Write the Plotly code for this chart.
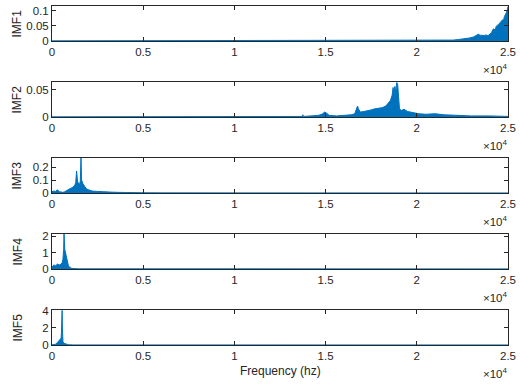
import plotly.graph_objects as go

W, H = 520, 387
BLUE = "#0072BD"
AX = "#262626"

# ---- data ----
imf1_f = [0, 20000, 21000, 21500, 22000, 22300, 22600, 22900, 23100, 23300, 23400, 23450, 23500,
          23700, 23800, 23900, 24000, 24100, 24200, 24300, 24350, 24400, 24500, 24550, 24600, 24700,
          24750, 24800, 24850, 24900, 24950, 25000]
imf1_a = [0.0005, 0.0008, 0.001, 0.002, 0.003, 0.005, 0.007, 0.01, 0.013, 0.018, 0.023, 0.017, 0.019,
          0.018, 0.02, 0.017, 0.022, 0.028, 0.04, 0.036, 0.048, 0.05, 0.055, 0.06, 0.062, 0.07,
          0.066, 0.08, 0.085, 0.092, 0.1, 0.113]

imf2_f = [0, 13000, 13700, 13750, 13800, 14200, 14600, 14800, 14950, 15050, 15200, 15600, 16000,
          16400, 16600, 16750, 16800, 16900, 17100, 17300, 17500, 17700, 17900, 18100, 18300, 18450,
          18550, 18650, 18700, 18750, 18800, 18850, 18900, 18950, 19000, 19050, 19150, 19300, 19500,
          19800, 20100, 20500, 21000, 21500, 22000, 23000, 24000, 25000]
imf2_a = [0.0003, 0.0005, 0.001, 0.004, 0.001, 0.002, 0.003, 0.005, 0.009, 0.007, 0.003, 0.002, 0.003,
          0.004, 0.006, 0.02, 0.015, 0.009, 0.01, 0.011, 0.013, 0.015, 0.016, 0.017, 0.02, 0.025,
          0.03, 0.04, 0.054, 0.042, 0.056, 0.045, 0.063, 0.06, 0.035, 0.015, 0.012, 0.014, 0.01,
          0.008, 0.006, 0.005, 0.006, 0.004, 0.003, 0.002, 0.002, 0.001]

imf3_f = [0, 100, 200, 300, 400, 500, 600, 700, 800, 900, 1000, 1100, 1200, 1250, 1300, 1350, 1400,
          1450, 1500, 1550, 1590, 1620, 1660, 1700, 1800, 1900, 2000, 2200, 2500, 2800, 3200, 3600,
          4000, 5000, 6000, 8000, 25000]
imf3_a = [0.01, 0.015, 0.012, 0.025, 0.01, 0.006, 0.005, 0.01, 0.02, 0.03, 0.035, 0.04, 0.05, 0.06,
          0.08, 0.17, 0.09, 0.07, 0.06, 0.09, 0.27, 0.1, 0.08, 0.07, 0.05, 0.03, 0.025, 0.015, 0.012,
          0.008, 0.007, 0.005, 0.003, 0.002, 0.001, 0.001, 0.0005]

imf4_f = [0, 100, 200, 300, 400, 500, 560, 600, 640, 660, 680, 700, 750, 800, 850, 900, 1000, 1100,
          1500, 25000]
imf4_a = [0.1, 0.25, 0.2, 0.3, 0.25, 0.3, 0.4, 0.6, 1.2, 2.15, 1.7, 1.2, 0.9, 0.6, 0.35, 0.2, 0.08,
          0.03, 0.01, 0.005]

imf5_f = [0, 100, 200, 300, 400, 450, 500, 520, 540, 555, 570, 600, 650, 700, 800, 900, 1200, 25000]
imf5_a = [0.02, 0.05, 0.1, 0.3, 0.5, 0.6, 0.8, 1.5, 3.0, 4.05, 2.0, 0.4, 0.2, 0.15, 0.08, 0.03, 0.01,
          0.005]

labels = ["IMF1", "IMF2", "IMF3", "IMF4", "IMF5"]
yranges = [[0, 0.115], [0, 0.064], [0, 0.27], [0, 2.15], [0, 4.1]]
ydticks = [0.05, 0.05, 0.1, 1, 2]
xtick_vals = [0, 5000, 10000, 15000, 20000, 25000]
xtick_text = ["0", "0.5", "1", "1.5", "2", "2.5"]
series = [(imf1_f, imf1_a), (imf2_f, imf2_a), (imf3_f, imf3_a), (imf4_f, imf4_a), (imf5_f, imf5_a)]

# ---- layout geometry (reference pixels) ----
left, right = 52, 508
tops = [6, 82, 158, 234, 310]
hgt = 35


def fx(px):
    return px / W


def fy(py):
    return 1 - py / H


fig = go.Figure()
layout = dict(width=W, height=H, margin=dict(l=0, r=0, t=0, b=0, autoexpand=False),
              template="none",
              paper_bgcolor="white", plot_bgcolor="white", showlegend=False,
              font=dict(family="Liberation Sans, Arial, sans-serif", size=11, color=AX))
annotations = []
for i, ((f, a), lab) in enumerate(zip(series, labels)):
    n = i + 1
    xa = "x" if n == 1 else f"x{n}"
    ya = "y" if n == 1 else f"y{n}"
    fig.add_trace(go.Scatter(x=f, y=a, mode="lines", fill="tozeroy",
                             line=dict(color=BLUE, width=1), fillcolor=BLUE,
                             xaxis=xa, yaxis=ya, hoverinfo="skip"))
    top = tops[i]
    bot = top + hgt
    layout[f"xaxis{n}"] = dict(domain=[fx(left), fx(right)], range=[0, 25000], anchor=ya,
                               tickvals=xtick_vals, ticktext=xtick_text, ticks="inside",
                               ticklen=4, tickcolor=AX, showline=True, linecolor=AX,
                               linewidth=1, mirror="ticks", showgrid=False, zeroline=False,
                               automargin=False, tickfont=dict(size=11.5, color=AX))
    layout[f"yaxis{n}"] = dict(domain=[fy(bot), fy(top)], range=yranges[i], anchor=xa,
                               dtick=ydticks[i], tick0=0, ticks="inside", ticklen=4,
                               tickcolor=AX, showline=True, linecolor=AX, linewidth=1,
                               mirror="ticks", showgrid=False, zeroline=False,
                               automargin=False, tickfont=dict(size=11.5, color=AX))
    annotations.append(dict(text="×10<sup>4</sup>", xref="paper", yref="paper",
                            x=fx(right + 2), y=fy(bot + 19), xanchor="right",
                            yanchor="top", showarrow=False, font=dict(size=11.5, color=AX)))
    annotations.append(dict(text=lab, xref="paper", yref="paper", x=fx(17),
                            y=fy(top + hgt / 2), xanchor="center", yanchor="middle",
                            textangle=-90, showarrow=False, font=dict(size=12, color=AX)))

annotations.append(dict(text="Frequency (hz)", xref="paper", yref="paper",
                        x=fx((left + right) / 2), y=fy(371), xanchor="center",
                        yanchor="middle", showarrow=False, font=dict(size=12, color=AX)))
layout["annotations"] = annotations
fig.update_layout(**layout)
fig.write_html("out.html", config={"displayModeBar": False},
               post_script="document.body.style.margin='0';document.body.style.overflow='hidden';")
